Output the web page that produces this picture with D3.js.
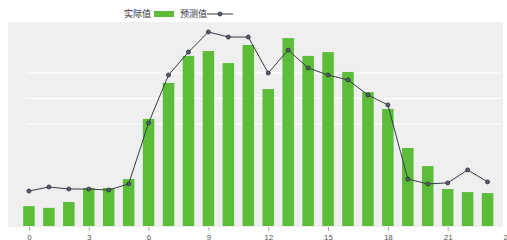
<!DOCTYPE html>
<html>
<head>
<meta charset="utf-8">
<script src="https://cdn.jsdelivr.net/npm/d3@7"></script>
<style>
    body { margin: 0; background: #fff; }
    svg { display: block; font-family: "Noto Sans CJK SC", "DejaVu Sans", sans-serif; }
</style>
</head>
<body>
<div id="chart"></div>
<script>
// hours 0..23
var hours = d3.range(0, 24);
var actual = [0.78, 0.71, 0.94, 1.49, 1.49, 1.84, 4.20, 5.61, 6.67, 6.86, 6.39, 7.10,
              5.37, 7.37, 6.67, 6.82, 6.04, 5.25, 4.59, 3.06, 2.35, 1.45, 1.33, 1.29];
var predicted = [1.37, 1.53, 1.45, 1.45, 1.41, 1.65, 4.04, 5.92, 6.82, 7.61, 7.41, 7.41,
                 6.00, 6.90, 6.20, 5.92, 5.73, 5.14, 4.75, 1.84, 1.65, 1.69, 2.20, 1.73];
var xTicks = [0, 3, 6, 9, 12, 15, 18, 21, 24];
var gridValues = [4, 5, 6];
var legendLabels = ["实际值", "预测值"];

var width = 507, height = 240;
var plot = { left: 8, right: 503, top: 22, bottom: 227 };

var svg = d3.select("#chart").append("svg")
    .attr("width", width)
    .attr("height", height);

var x = d3.scaleLinear()
    .domain([-1, 24])
    .range([9, 507.5]);

var y = d3.scaleLinear()
    .domain([0, 8])
    .range([226, 22]);

// plot background
svg.append("rect")
    .attr("x", plot.left)
    .attr("y", plot.top)
    .attr("width", plot.right - plot.left)
    .attr("height", plot.bottom - plot.top)
    .attr("fill", "#efefef");

svg.append("g")
    .selectAll("line")
    .data(gridValues)
    .join("line")
    .attr("x1", plot.left + 18)
    .attr("x2", plot.right - 2)
    .attr("y1", d => y(d))
    .attr("y2", d => y(d))
    .attr("stroke", "#ffffff")
    .attr("stroke-width", 1.2);

var barWidth = 11.5;

svg.append("g")
    .selectAll("rect")
    .data(hours)
    .join("rect")
    .attr("x", d => x(d) - barWidth / 2)
    .attr("y", d => y(actual[d]))
    .attr("width", barWidth)
    .attr("height", d => y(0) - y(actual[d]))
    .attr("fill", "#5cbd38");

var line = d3.line()
    .x(d => x(d))
    .y(d => y(predicted[d]));

svg.append("path")
    .datum(hours)
    .attr("d", line)
    .attr("fill", "none")
    .attr("stroke", "#3a3a48")
    .attr("stroke-width", 1);

svg.append("g")
    .selectAll("circle")
    .data(hours)
    .join("circle")
    .attr("cx", d => x(d))
    .attr("cy", d => y(predicted[d]))
    .attr("r", 2)
    .attr("fill", "#556070")
    .attr("stroke", "#2a2a35")
    .attr("stroke-width", 0.8);

// x axis
var xAxis = d3.axisBottom(x)
    .tickValues(xTicks)
    .tickSize(4)
    .tickPadding(3);

var axisG = svg.append("g")
    .attr("transform", "translate(0," + 227 + ")")
    .call(xAxis);

axisG.select(".domain").remove();
axisG.selectAll(".tick line").attr("stroke", "#aaa");
axisG.selectAll(".tick text")
    .attr("fill", "#555")
    .style("font-size", "8px");

// legend
var legend = svg.append("g").attr("transform", "translate(0,14)");

legend.append("text")
    .attr("x", 151)
    .attr("y", 3)
    .attr("text-anchor", "end")
    .attr("fill", "#333")
    .style("font-size", "9px")
    .text(legendLabels[0]);

legend.append("rect")
    .attr("x", 154)
    .attr("y", -3)
    .attr("width", 20)
    .attr("height", 6)
    .attr("fill", "#5cbd38");

legend.append("text")
    .attr("x", 180)
    .attr("y", 3)
    .attr("fill", "#333")
    .style("font-size", "9px")
    .text(legendLabels[1]);

legend.append("line")
    .attr("x1", 207)
    .attr("x2", 233)
    .attr("y1", 0)
    .attr("y2", 0)
    .attr("stroke", "#3a3a48");

legend.append("circle")
    .attr("cx", 220)
    .attr("cy", 0)
    .attr("r", 2)
    .attr("fill", "#556070")
    .attr("stroke", "#2a2a35")
    .attr("stroke-width", 0.8);
</script>
</body>
</html>
